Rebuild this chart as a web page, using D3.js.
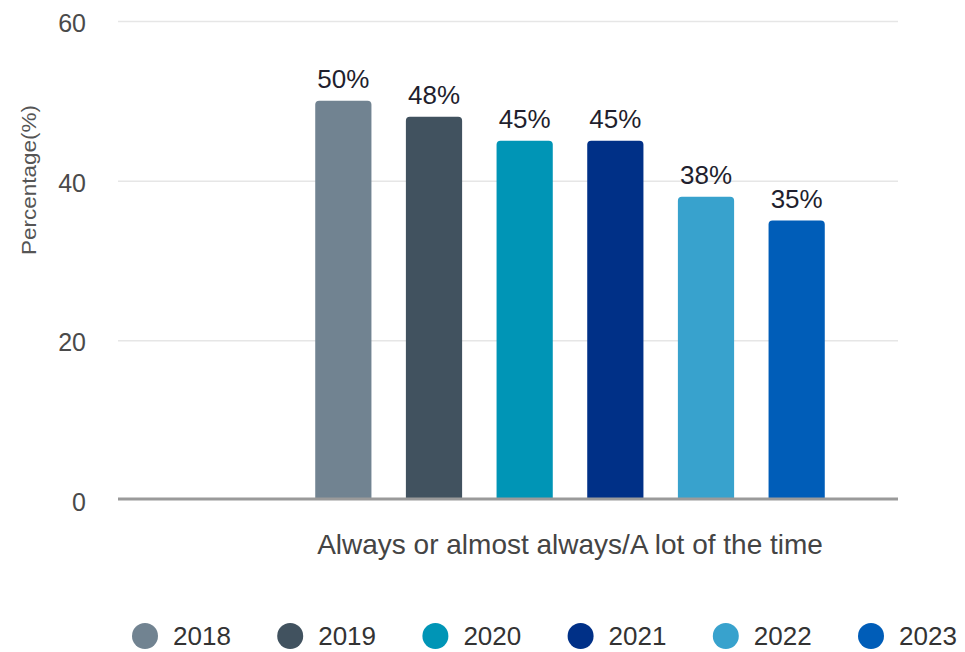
<!DOCTYPE html>
<html>
<head>
<meta charset="utf-8">
<script src="https://cdn.jsdelivr.net/npm/d3@7"></script>
<style>
  html, body { margin: 0; padding: 0; background: #ffffff; }
  svg { display: block; font-family: "Liberation Sans", Arial, sans-serif; }
</style>
</head>
<body>
<svg id="chart" width="965" height="652"></svg>
<script>
// Chart data
const category = "Always or almost always/A lot of the time";
const years = ["2018", "2019", "2020", "2021", "2022", "2023"];
const values = [50, 48, 45, 45, 38, 35];
const colors = ["#718391", "#41525f", "#0095b6", "#003087", "#38a2cd", "#005db8"];
const yTicks = [0, 20, 40, 60];
const yTitle = "Percentage(%)";

const svg = d3.select("#chart");

// Layout
const plotLeft = 118, plotRight = 898;
const plotTop = 21, plotBottom = 500;
const groupLeft = 298, groupRight = 842;

const y = d3.scaleLinear().domain([0, 60]).range([plotBottom, plotTop]);
const x = d3.scaleBand().domain(years).range([groupLeft, groupRight])
  .paddingInner(0.38).paddingOuter(0.19);
const color = d3.scaleOrdinal().domain(years).range(colors);

// Gridlines and y tick labels
const yAxis = d3.axisLeft(y).tickValues(yTicks).tickSize(-(plotRight - plotLeft)).tickPadding(32);
const gy = svg.append("g").attr("transform", `translate(${plotLeft},0)`).call(yAxis);
gy.select(".domain").remove();
gy.selectAll(".tick line").attr("stroke", "#e6e6e6").attr("stroke-width", 1.5)
  .attr("display", d => d === 0 ? "none" : null);
gy.selectAll(".tick text").attr("fill", "#4a4a4a").attr("font-size", 25)
  .attr("font-family", "'Liberation Sans', Arial, sans-serif").attr("dy", "0.42em");

// Y axis title
svg.append("text")
  .attr("transform", `translate(36, 180) rotate(-90)`)
  .attr("text-anchor", "middle")
  .attr("font-size", 20)
  .attr("textLength", 150)
  .attr("lengthAdjust", "spacingAndGlyphs")
  .attr("fill", "#555")
  .text(yTitle);

// Bars with rounded top corners
const r = 4;
function barPath(d, i) {
  const x0 = x(years[i]), w = x.bandwidth();
  const y0 = y(d), y1 = y(0);
  return `M${x0},${y1} L${x0},${y0 + r} Q${x0},${y0} ${x0 + r},${y0} ` +
    `L${x0 + w - r},${y0} Q${x0 + w},${y0} ${x0 + w},${y0 + r} L${x0 + w},${y1} Z`;
}
svg.append("g").selectAll("path").data(values).join("path")
  .attr("d", barPath)
  .attr("fill", (d, i) => color(years[i]));

// Value labels
svg.append("g").selectAll("text").data(values).join("text")
  .attr("x", (d, i) => x(years[i]) + x.bandwidth() / 2)
  .attr("y", d => y(d) - 13)
  .attr("text-anchor", "middle")
  .attr("font-size", 26)
  .attr("fill", "#1f1f2e")
  .text(d => d + "%");

// Baseline
svg.append("line")
  .attr("x1", plotLeft).attr("x2", plotRight)
  .attr("y1", y(0) - 1).attr("y2", y(0) - 1)
  .attr("stroke", "#9a9a9a").attr("stroke-width", 3);

// Category label
svg.append("text")
  .attr("x", (groupLeft + groupRight) / 2)
  .attr("y", 554)
  .attr("text-anchor", "middle")
  .attr("font-size", 28)
  .attr("fill", "#444")
  .text(category);

// Legend
const legendX = d3.scalePoint().domain(years).range([145, 871]);
const lg = svg.append("g").selectAll("g").data(years).join("g")
  .attr("transform", d => `translate(${legendX(d)},636)`);
lg.append("circle").attr("r", 13).attr("fill", d => color(d));
lg.append("text").attr("x", 28).attr("dy", "0.36em")
  .attr("font-size", 26).attr("fill", "#333").text(d => d);
</script>
</body>
</html>
